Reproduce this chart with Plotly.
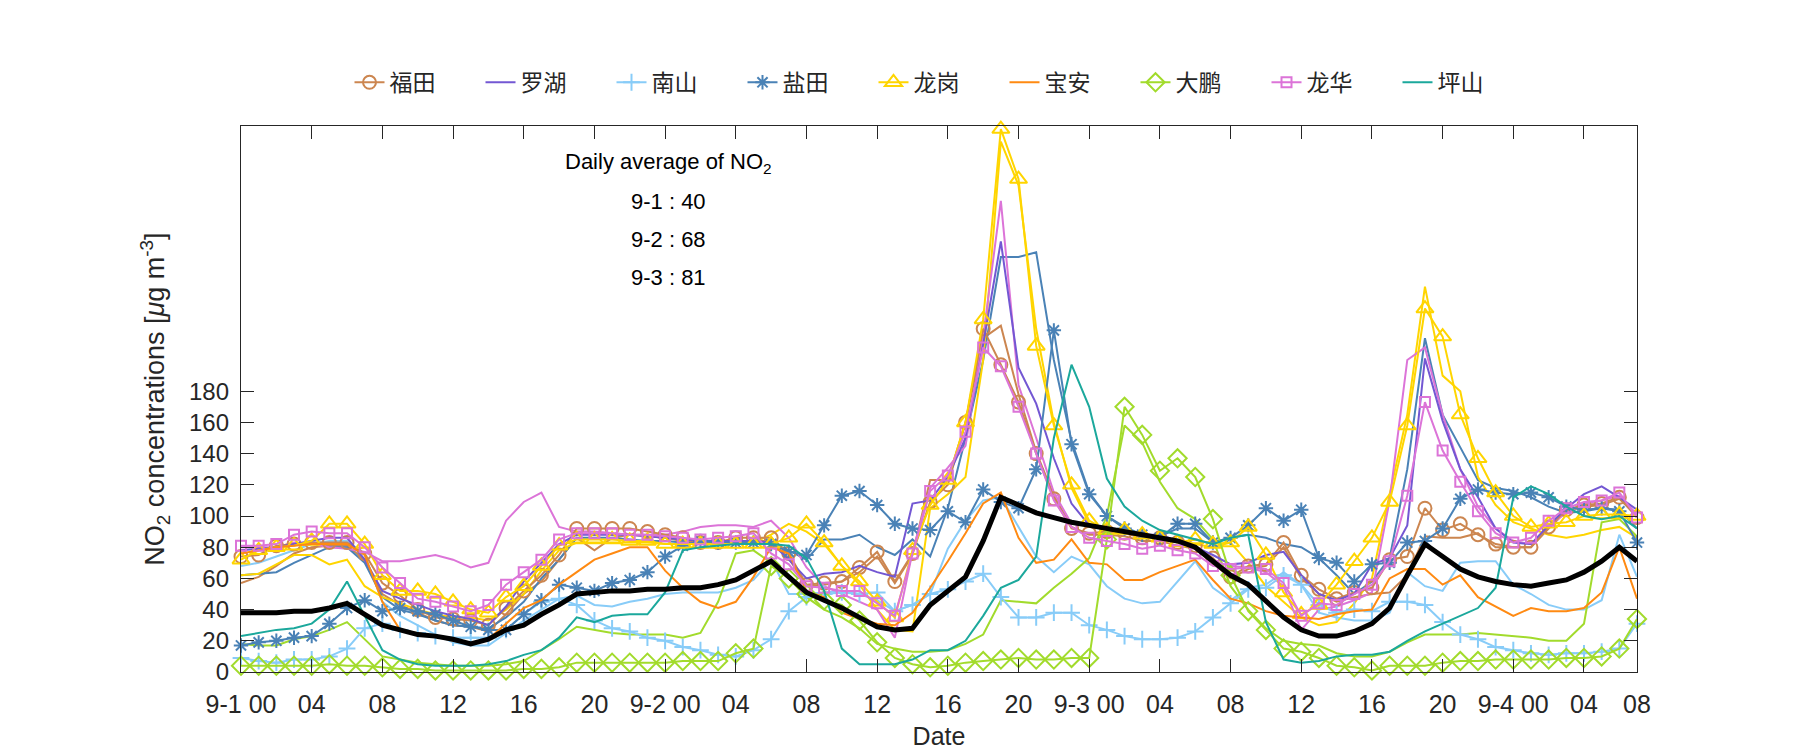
import plotly.graph_objects as go

hours = list(range(80))
x_tickvals = list(range(0, 80, 4)) + [79]
x_ticktext = ["9-1 00", "04", "08", "12", "16", "20", "9-2 00", "04", "08", "12", "16", "20",
              "9-3 00", "04", "08", "12", "16", "20", "9-4 00", "04", "08"]
y_tickvals = list(range(0, 181, 20))

names = ["福田", "罗湖", "南山", "盐田", "龙岗", "宝安", "大鹏", "龙华", "坪山"]

avg = [38, 38, 38, 39, 39, 41, 44, 37, 30, 27, 24, 23, 21, 18, 21, 27, 30, 37, 43, 50,
       51, 52, 52, 53, 53, 54, 54, 56, 59, 65, 71, 61, 51, 46, 41, 35, 29, 27, 28, 43,
       52, 61, 84, 112, 107, 102, 99, 96, 94, 92, 90, 88, 86, 84, 80, 71, 62, 56, 45, 35,
       27, 23, 23, 26, 31, 41, 62, 82, 74, 66, 61, 58, 56, 55, 57, 59, 64, 71, 80, 71]

futian = [74, 75, 81, 82, 83, 83, 83, 76, 57, 49, 40, 35, 34, 33, 30, 41, 52, 62, 75, 92,
          92, 92, 92, 90, 88, 86, 83, 83, 86, 86, 86, 76, 56, 57, 58, 67, 77, 58, 76, 109,
          120, 160, 220, 197, 173, 140, 111, 92, 89, 90, 89, 86, 86, 83, 81, 73, 61, 68, 69, 83,
          62, 53, 47, 51, 54, 72, 74, 105, 91, 95, 88, 82, 80, 80, 93, 104, 107, 108, 112, 99]
futian_b = [57, 61, 68, 76, 80, 81, 81, 72, 50, 43, 38, 33, 30, 29, 26, 37, 50, 58, 72, 86,
            78, 86, 88, 87, 86, 84, 83, 83, 84, 84, 84, 73, 55, 56, 58, 64, 74, 57, 75, 123,
            123, 160, 214, 222, 178, 141, 113, 93, 88, 88, 87, 84, 84, 81, 79, 70, 60, 66, 68, 80,
            60, 50, 45, 48, 50, 51, 62, 87, 86, 86, 89, 80, 80, 80, 92, 103, 106, 107, 111, 100]
luohu = [78, 79, 80, 82, 84, 86, 86, 72, 52, 47, 43, 39, 36, 34, 30, 42, 58, 70, 82, 88,
         88, 88, 88, 87, 86, 85, 84, 84, 84, 84, 83, 72, 60, 63, 64, 68, 64, 61, 108, 110,
         125, 150, 210, 276, 195, 172, 137, 108, 94, 92, 91, 88, 88, 84, 80, 75, 69, 70, 75, 77,
         62, 50, 46, 50, 69, 73, 94, 201, 161, 130, 112, 92, 83, 82, 94, 105, 114, 119, 112, 104]
nanshan = [9, 7, 6, 8, 8, 10, 15, 28, 31, 27, 25, 23, 22, 22, 22, 27, 37, 45, 47, 43,
           33, 28, 26, 22, 20, 16, 14, 11, 10, 14, 21, 39, 48, 50, 51, 50, 51, 39, 43, 50,
           53, 58, 63, 48, 35, 35, 38, 38, 30, 27, 23, 21, 21, 22, 26, 35, 44, 53, 54, 62,
           56, 43, 38, 40, 39, 45, 45, 43, 32, 24, 21, 16, 14, 12, 11, 12, 12, 13, 15, 31]
nanshan_b = [68, 70, 74, 78, 82, 84, 84, 75, 45, 36, 30, 24, 19, 17, 17, 25, 33, 40, 47, 49,
             43, 42, 45, 47, 50, 51, 51, 51, 54, 59, 72, 50, 50, 51, 52, 50, 46, 39, 43, 50,
             79, 97, 110, 112, 93, 74, 64, 74, 69, 55, 47, 44, 45, 58, 71, 54, 46, 54, 56, 64,
             56, 38, 35, 33, 33, 38, 64, 55, 52, 70, 71, 71, 56, 50, 43, 40, 40, 46, 88, 61]
yantian = [17, 19, 20, 22, 23, 31, 41, 46, 39, 41, 39, 37, 33, 29, 27, 27, 37, 46, 56, 54,
           52, 57, 59, 64, 74, 81, 84, 83, 83, 83, 82, 77, 75, 94, 113, 116, 107, 95, 92, 91,
           103, 96, 117, 109, 105, 130, 219, 146, 114, 100, 92, 88, 86, 95, 95, 83, 86, 94, 105, 97,
           104, 73, 70, 58, 69, 70, 83, 84, 92, 111, 117, 115, 114, 115, 112, 106, 104, 105, 103, 83]
yantian_b = [62, 63, 64, 70, 75, 80, 80, 70, 48, 40, 37, 33, 30, 29, 28, 35, 45, 60, 72, 86,
             86, 86, 85, 84, 84, 83, 82, 82, 82, 82, 82, 78, 72, 85, 85, 88, 80, 75, 85, 74,
             105, 150, 200, 266, 266, 269, 200, 148, 115, 100, 93, 88, 87, 92, 92, 83, 86, 88, 86, 82,
             80, 73, 62, 50, 58, 73, 130, 214, 165, 144, 123, 118, 116, 112, 106, 102, 103, 105, 104, 92]
longgang = [72, 78, 80, 81, 84, 95, 95, 82, 62, 52, 52, 50, 45, 40, 38, 48, 55, 68, 81, 85,
            85, 85, 84, 84, 82, 82, 82, 82, 82, 82, 82, 86, 95, 83, 68, 58, 45, 35, 78, 107,
            123, 160, 226, 348, 316, 209, 158, 120, 97, 91, 91, 88, 86, 83, 85, 82, 83, 93, 75, 51,
            37, 43, 56, 71, 86, 109, 158, 233, 215, 165, 137, 115, 100, 93, 95, 96, 100, 101, 101, 100]
longgang_b = [62, 63, 69, 75, 75, 69, 72, 55, 48, 44, 40, 37, 35, 35, 33, 40, 50, 65, 78, 83,
              83, 83, 83, 83, 82, 82, 82, 82, 82, 83, 88, 95, 90, 82, 68, 56, 40, 27, 26, 105,
              114, 125, 200, 340, 312, 220, 160, 118, 95, 90, 90, 88, 86, 84, 82, 80, 83, 70, 55, 45,
              35, 30, 32, 44, 60, 114, 165, 247, 190, 180, 125, 107, 96, 92, 88, 86, 88, 91, 93, 86]
baoan = [76, 78, 80, 81, 82, 82, 82, 75, 45, 27, 25, 23, 20, 18, 21, 31, 41, 46, 56, 64,
         72, 76, 80, 80, 65, 54, 45, 41, 45, 61, 80, 76, 52, 48, 38, 34, 31, 30, 38, 54,
         71, 89, 108, 115, 86, 70, 72, 85, 70, 69, 59, 59, 64, 68, 72, 59, 47, 44, 39, 36,
         35, 34, 37, 39, 40, 60, 66, 66, 56, 62, 48, 42, 36, 41, 39, 39, 41, 51, 80, 47]
dapeng = [4, 4, 4, 4, 4, 5, 4, 4, 3, 2, 2, 1, 1, 1, 1, 1, 2, 2, 3, 6,
          6, 6, 6, 6, 6, 7, 7, 7, 12, 15, 68, 60, 50, 46, 43, 33, 19, 9, 5, 3,
          4, 6, 7, 8, 9, 8, 8, 9, 9, 85, 170, 152, 129, 137, 125, 98, 62, 39, 27, 15,
          13, 9, 4, 3, 1, 4, 4, 4, 6, 7, 7, 8, 8, 8, 8, 9, 9, 10, 15, 34]
dapeng_b = [18, 17, 17, 21, 23, 27, 32, 21, 10, 8, 6, 5, 4, 4, 4, 5, 7, 14, 21, 29,
            27, 25, 24, 24, 24, 22, 25, 45, 76, 78, 70, 60, 48, 40, 35, 28, 18, 15, 13, 13,
            14, 18, 24, 46, 45, 44, 54, 63, 73, 100, 158, 147, 122, 105, 98, 85, 55, 40, 28, 20,
            18, 17, 12, 10, 10, 13, 19, 24, 24, 24, 25, 24, 23, 22, 20, 20, 31, 96, 98, 87]
longhua = [81, 81, 82, 88, 90, 89, 89, 80, 67, 57, 47, 45, 42, 39, 43, 56, 64, 72, 85, 89,
           89, 89, 88, 88, 87, 86, 85, 86, 87, 89, 76, 69, 55, 54, 52, 52, 44, 36, 76, 116,
           126, 154, 208, 196, 170, 140, 110, 93, 86, 84, 82, 79, 81, 78, 76, 68, 66, 67, 66, 57,
           36, 44, 43, 50, 56, 71, 113, 173, 142, 122, 103, 89, 83, 86, 97, 105, 109, 110, 115, 99]
longhua_b = [80, 80, 80, 83, 82, 80, 79, 77, 71, 71, 73, 75, 72, 67, 70, 97, 109, 115, 93, 90,
             90, 89, 88, 88, 88, 90, 93, 94, 94, 93, 97, 86, 67, 55, 50, 45, 40, 22, 77, 118,
             131, 145, 215, 302, 184, 150, 115, 95, 94, 92, 89, 87, 86, 84, 80, 71, 68, 67, 64, 55,
             27, 40, 42, 46, 51, 110, 200, 208, 165, 130, 106, 92, 84, 82, 94, 102, 108, 110, 113, 101]
pingshan = [23, 25, 27, 28, 31, 40, 58, 36, 14, 8, 5, 4, 4, 4, 5, 7, 11, 14, 22, 35,
            32, 36, 37, 37, 51, 78, 80, 81, 82, 82, 82, 81, 73, 52, 15, 5, 5, 5, 8, 14,
            14, 20, 36, 54, 59, 74, 150, 197, 170, 124, 106, 97, 91, 88, 85, 82, 86, 88, 32, 8,
            6, 7, 10, 11, 11, 13, 20, 26, 31, 36, 41, 54, 112, 119, 114, 106, 100, 98, 100, 92]

colors = ["#CC8650", "#7357D3", "#88CCF8", "#4A82B6", "#FFD500", "#FF8A12", "#A2DB2C", "#DC74D8", "#1BA89C"]
symbols = ["circle-open", None, "cross-thin-open", "asterisk-open", "triangle-up-open", None,
           "diamond-open", "square-open", None]
msizes = [13, 0, 12, 12, 15, 0, 14, 10, 0]
main_series = [futian, luohu, nanshan, yantian, longgang, baoan, dapeng, longhua, pingshan]
second_series = {0: futian_b, 2: nanshan_b, 3: yantian_b, 4: longgang_b, 6: dapeng_b, 7: longhua_b}

fig = go.Figure()

# secondary (unmarked) lines
for i, ser in second_series.items():
    fig.add_trace(go.Scatter(x=hours, y=ser, mode="lines", line=dict(color=colors[i], width=2),
                             showlegend=False, hoverinfo="skip", cliponaxis=False))

# main lines
for i, ser in enumerate(main_series):
    if symbols[i]:
        fig.add_trace(go.Scatter(x=hours, y=ser, mode="lines+markers", name=names[i],
                                 line=dict(color=colors[i], width=2),
                                 marker=dict(symbol=symbols[i], size=msizes[i], color=colors[i],
                                             line=dict(width=2, color=colors[i])),
                                 cliponaxis=False))
    else:
        fig.add_trace(go.Scatter(x=hours, y=ser, mode="lines", name=names[i],
                                 line=dict(color=colors[i], width=2), cliponaxis=False))

fig.add_trace(go.Scatter(x=hours, y=avg, mode="lines", line=dict(color="black", width=5),
                         showlegend=False, hoverinfo="skip"))

font_family = "Liberation Sans, Arial, Noto Sans CJK SC, sans-serif"

fig.update_layout(
    width=1800, height=750,
    margin=dict(l=233, r=171, t=118, b=86),
    paper_bgcolor="white", plot_bgcolor="white",
    font=dict(family=font_family, size=24, color="#262626"),
    legend=dict(orientation="h", x=0.5, xanchor="center", y=1.08, yanchor="middle",
                font=dict(size=23, family="Noto Sans CJK SC, sans-serif", color="#262626"),
                itemwidth=30, entrywidth=86, entrywidthmode="pixels", tracegroupgap=0),
    showlegend=True,
)

fig.update_xaxes(range=[0, 79], tickvals=x_tickvals, ticktext=x_ticktext,
                 showline=True, linecolor="#262626", linewidth=1.3, mirror="ticks",
                 ticks="inside", ticklen=13, tickcolor="#262626", tickwidth=1.3,
                 showgrid=False, zeroline=False, ticklabelstandoff=10,
                 tickfont=dict(size=25),
                 title=dict(text="Date", standoff=10, font=dict(size=25)))
fig.update_yaxes(range=[0, 350], tickvals=y_tickvals,
                 showline=True, linecolor="#262626", linewidth=1.3, mirror="ticks",
                 ticks="inside", ticklen=13, tickcolor="#262626", tickwidth=1.3,
                 showgrid=False, zeroline=False, ticklabelstandoff=6,
                 tickfont=dict(size=24),
                 title=dict(text="NO<sub>2</sub> concentrations [<i>μ</i>g m<sup>-3</sup>]",
                            standoff=16, font=dict(size=27)))

ann_lines = ["Daily average of NO<sub>2</sub>", "9-1 : 40", "9-2 : 68", "9-3 : 81"]
ann_y = [0.932, 0.861, 0.793, 0.723]
for t, yy in zip(ann_lines, ann_y):
    fig.add_annotation(text=t, xref="paper", yref="paper", x=0.306, y=yy,
                       xanchor="center", yanchor="middle", showarrow=False,
                       font=dict(size=22, color="black"))

fig.write_html("out.html")
